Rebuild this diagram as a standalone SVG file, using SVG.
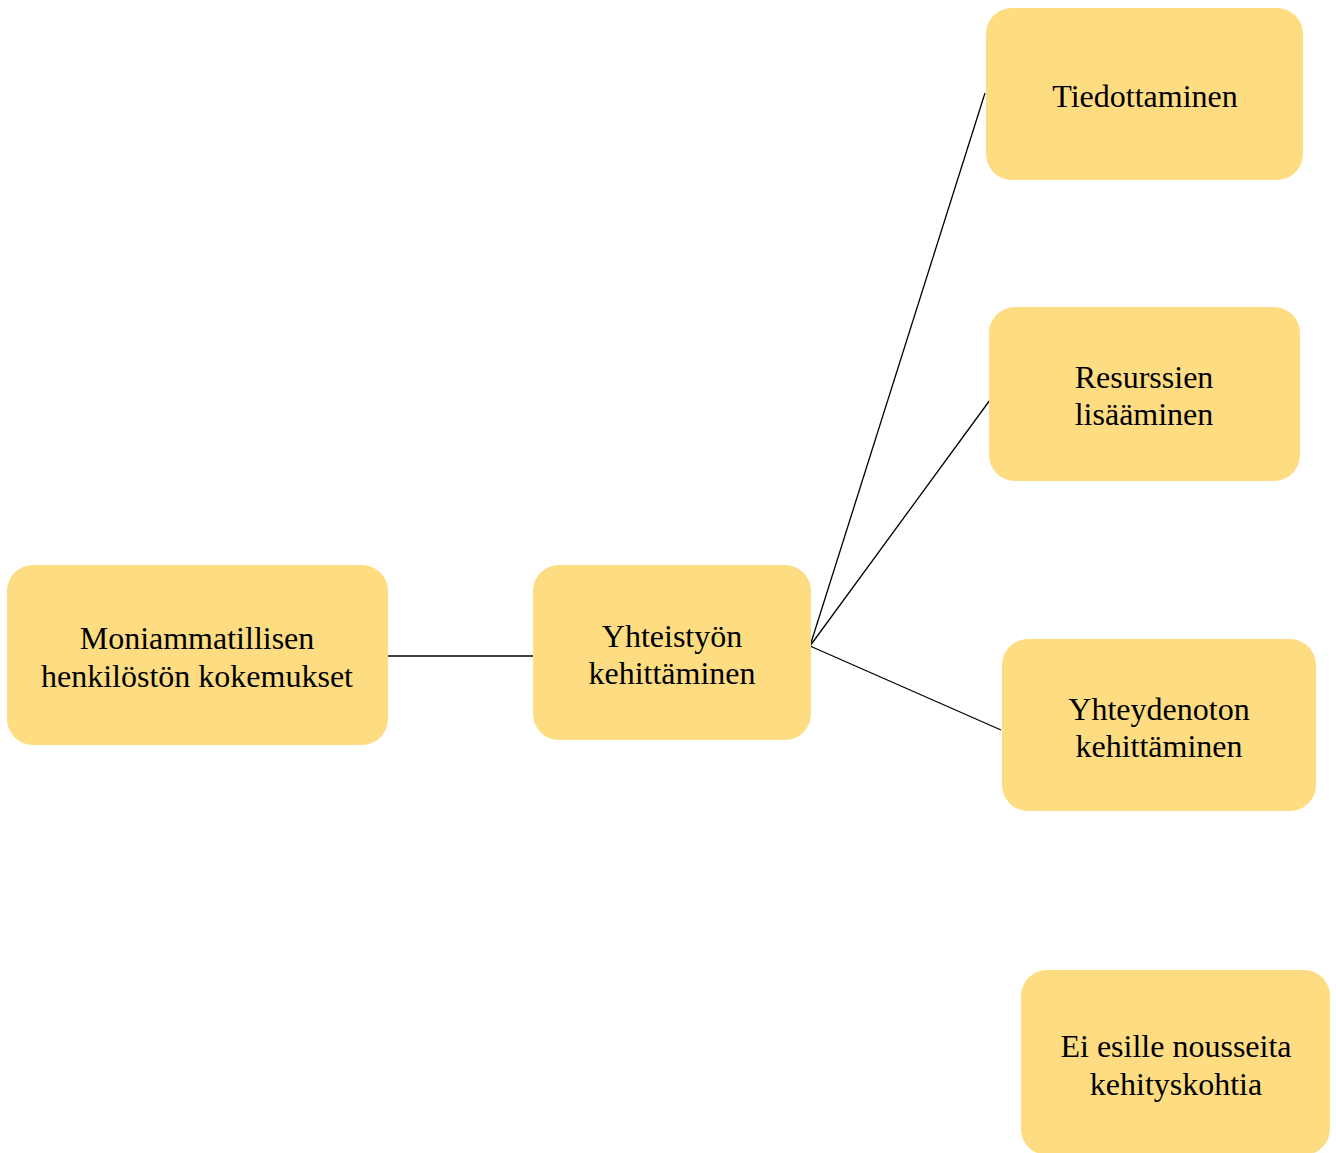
<svg xmlns="http://www.w3.org/2000/svg" width="1336" height="1153" viewBox="0 0 1336 1153">
<style>
.box{fill:#FEDD82;}
.t{font-family:"Liberation Serif","Times New Roman",serif;font-size:32px;fill:#000;text-anchor:middle;}
.c{stroke:#000;stroke-width:1.3;fill:none;}
</style>
<rect width="1336" height="1153" fill="#fff"/>
<g id="connectors">
<line class="c" x1="387" y1="656" x2="533" y2="656"/>
<line class="c" x1="810" y1="646" x2="985" y2="93"/>
<line class="c" x1="810" y1="646" x2="990" y2="400"/>
<line class="c" x1="810" y1="646" x2="1001" y2="730"/>
</g>
<g id="n1"><rect class="box" x="7" y="565" width="381" height="180" rx="26"/>
<text class="t" x="197" y="649">Moniammatillisen</text><text class="t" x="197" y="687">henkilöstön kokemukset</text></g>
<g id="n2"><rect class="box" x="533" y="565" width="278" height="175" rx="26"/>
<text class="t" x="672" y="647">Yhteistyön</text><text class="t" x="672" y="684">kehittäminen</text></g>
<g id="n3"><rect class="box" x="986" y="8" width="317" height="172" rx="26"/>
<text class="t" x="1145" y="107">Tiedottaminen</text></g>
<g id="n4"><rect class="box" x="989" y="307" width="311" height="174" rx="26"/>
<text class="t" x="1144" y="388">Resurssien</text><text class="t" x="1144" y="425">lisääminen</text></g>
<g id="n5"><rect class="box" x="1002" y="639" width="314" height="172" rx="26"/>
<text class="t" x="1159" y="720">Yhteydenoton</text><text class="t" x="1159" y="757">kehittäminen</text></g>
<g id="n6"><rect class="box" x="1021" y="970" width="309" height="185" rx="26"/>
<text class="t" x="1176" y="1057">Ei esille nousseita</text><text class="t" x="1176" y="1095">kehityskohtia</text></g>
</svg>
